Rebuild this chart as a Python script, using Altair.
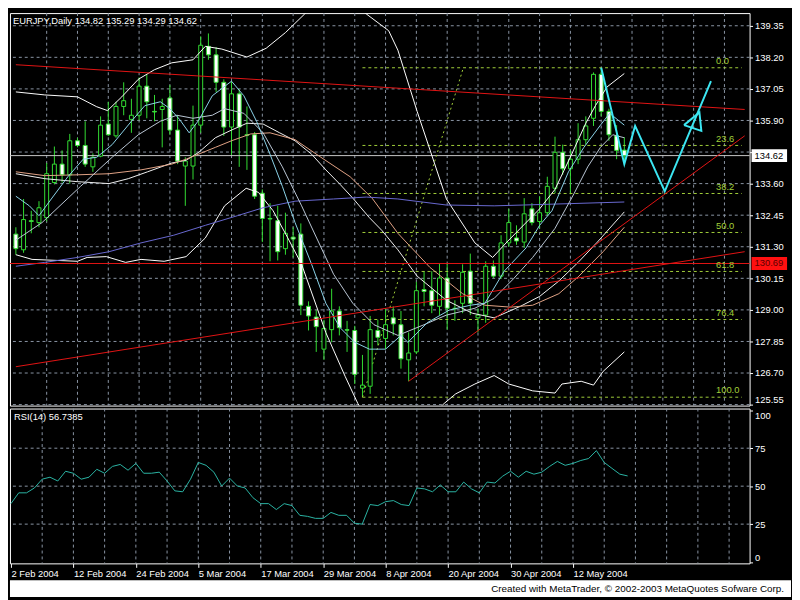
import altair as alt
import pandas as pd

FONT = "Liberation Sans"
FS = 9.5
GRID = "#8A95A5"
GREEN = "#33DD33"
RED = "#E41414"
FIB = "#A2CF3A"
CYAN = "#3CE6F2"
TEAL = "#2BB5A5"
W = 750
H_MAIN = 398
H_RSI = 157

# ---------------- data ----------------
bar_index = list(range(80))
opens = [131.76, 131.19, 132.25, 132.18, 132.36, 133.64, 134.31, 133.92, 135.16, 134.99,
         134.21, 134.60, 135.77, 135.34, 136.41, 135.94, 136.09, 137.15, 136.23, 136.30,
         136.72, 135.55, 134.24, 134.24, 135.73, 138.60, 138.29, 137.29, 135.66, 136.87,
         135.38, 135.38, 133.25, 132.33, 132.25, 131.23, 131.65, 131.76, 129.13, 128.74,
         127.57, 128.28, 128.96, 128.28, 128.25, 126.15, 126.22, 128.25, 127.96, 128.71,
         128.46, 127.18, 127.47, 129.74, 129.70, 129.13, 130.16, 129.06, 129.24, 130.41,
         128.71, 128.81, 130.59, 130.23, 131.44, 131.62, 131.47, 132.68, 132.22, 132.54,
         133.43, 134.74, 134.14, 134.49, 135.20, 135.98, 137.58, 136.23, 135.34, 134.82]
highs = [132.01, 133.04, 132.61, 132.96, 134.35, 134.95, 134.81, 135.41, 135.27, 135.87,
         134.70, 136.05, 136.58, 136.58, 137.29, 136.69, 137.47, 137.58, 136.83, 136.69,
         137.19, 136.09, 134.56, 136.44, 138.96, 139.07, 138.57, 137.40, 137.33, 137.04,
         136.41, 135.48, 133.39, 132.89, 132.79, 132.54, 132.01, 132.15, 129.31, 128.99,
         128.64, 129.77, 129.13, 128.60, 128.42, 127.36, 128.78, 128.64, 129.06, 129.13,
         128.96, 128.18, 130.02, 130.41, 130.41, 130.69, 130.69, 129.35, 130.66, 131.05,
         129.06, 130.77, 130.80, 131.72, 132.68, 132.08, 133.07, 132.89, 133.14, 133.85,
         135.31, 135.02, 134.81, 135.80, 136.05, 137.65, 137.82, 136.33, 135.73, 135.29]
lows = [131.01, 131.08, 131.79, 132.01, 132.22, 133.57, 133.64, 133.60, 134.92, 134.21,
        134.03, 134.56, 135.34, 135.27, 136.09, 135.45, 135.91, 135.98, 135.87, 134.92,
        135.38, 134.31, 132.79, 133.75, 135.45, 138.11, 136.94, 135.34, 134.63, 134.21,
        134.10, 133.04, 131.47, 130.77, 130.80, 131.01, 130.91, 128.81, 128.25, 127.47,
        127.18, 127.82, 128.07, 127.47, 126.30, 125.82, 125.94, 127.71, 127.57, 128.07,
        126.86, 126.40, 127.39, 129.13, 128.88, 128.81, 128.28, 128.60, 128.88, 128.81,
        128.18, 128.53, 130.16, 130.13, 131.30, 131.37, 131.26, 132.08, 131.97, 132.43,
        133.25, 133.92, 133.21, 134.31, 135.02, 135.70, 136.05, 135.16, 134.49, 134.29]
closes = [131.23, 132.29, 132.22, 132.72, 133.96, 134.31, 133.92, 135.16, 134.99, 134.31,
          134.56, 135.73, 135.38, 136.41, 136.62, 136.09, 137.15, 136.58, 136.21, 136.41,
          135.55, 134.42, 134.42, 135.73, 138.64, 138.29, 137.29, 135.66, 136.87, 135.66,
          135.36, 133.14, 132.33, 132.31, 131.12, 131.79, 131.58, 129.17, 128.78, 128.39,
          128.32, 128.96, 128.35, 128.26, 126.65, 126.26, 128.28, 128.00, 128.46, 128.49,
          127.22, 127.43, 129.70, 129.67, 129.17, 130.16, 129.06, 129.04, 130.37, 129.24,
          128.81, 130.59, 130.23, 131.44, 132.18, 131.51, 132.50, 132.18, 132.54, 133.50,
          134.74, 134.14, 134.49, 135.20, 135.70, 137.58, 136.23, 135.38, 134.81, 134.62]
rsi_values = [38.5, 45.6, 45.6, 48.8, 54.6, 55.9, 53.4, 59.8, 58.5, 54.6,
              55.9, 61.1, 58.5, 63.0, 64.3, 60.5, 65.0, 58.5, 58.5, 59.2,
              53.4, 46.9, 46.3, 54.6, 65.6, 63.7, 59.2, 50.1, 55.3, 50.1,
              48.8, 42.4, 38.5, 38.5, 34.6, 38.5, 37.2, 30.8, 30.1, 28.8,
              28.8, 32.7, 30.8, 30.8, 25.6, 25.0, 37.9, 37.2, 39.8, 40.5,
              37.9, 37.2, 48.8, 48.2, 46.3, 50.8, 46.3, 46.3, 52.7, 48.2,
              45.6, 52.7, 52.1, 56.6, 59.8, 55.9, 59.8, 57.9, 59.2, 63.0,
              66.3, 63.7, 65.0, 66.9, 68.2, 73.4, 65.6, 61.7, 57.9, 56.7385]

date_tick_idx = [0, 8, 16, 24, 32, 40, 48, 56, 64, 72]
date_tick_labels = ["2 Feb 2004", "12 Feb 2004", "24 Feb 2004", "5 Mar 2004", "17 Mar 2004",
                    "29 Mar 2004", "8 Apr 2004", "20 Apr 2004", "30 Apr 2004", "12 May 2004"]
price_ticks = [125.55, 126.70, 127.85, 129.00, 130.15, 131.30, 132.45, 133.60, 134.75,
               135.90, 137.05, 138.20, 139.35]
hidden_price_tick = 134.75
rsi_ticks = [0, 25, 50, 75, 100]
rsi_grid = [25, 50, 75]
grid_idx = list(range(4, 93, 4))

# indicator traces (bar index, price)
bb_upper_i = [0, 3.75, 8, 9.25, 10.5, 11.9, 13.75, 15.9, 18, 20.25, 23, 24.6, 26.75, 30, 32.5,
              35, 37.5, 39.6, 41.5, 43.4, 45.5, 48.4, 49.6, 52.1, 55.9, 59.6, 61.9, 63.75, 68,
              70, 72.1, 74, 75.25, 76.75, 79]
bb_upper_p = [136.94, 136.83, 136.76, 136.58, 136.40, 136.26, 136.76, 137.40, 137.75, 138.00,
              138.11, 138.60, 138.50, 138.21, 138.53, 139.10, 139.78, 140.31, 140.52, 140.31,
              139.78, 139.17, 138.46, 136.23, 133.04, 131.44, 130.91, 131.47, 132.68, 133.39,
              134.63, 135.80, 136.44, 137.12, 137.61]
bb_lower_i = [0, 2.1, 8, 9.25, 11.75, 14.25, 16.25, 19.25, 22.1, 24.6, 27.1, 29.9, 31.5, 33.4,
              35.25, 37.1, 40.25, 42.75, 44.4, 46.5, 49.6, 53.4, 55.6, 57.1, 59.6, 62.1, 64,
              67.1, 70, 70.9, 73.4, 75, 76.25, 79]
bb_lower_p = [131.01, 130.84, 130.77, 130.91, 130.94, 130.73, 130.84, 130.77, 130.94, 131.62,
              132.79, 133.43, 133.28, 132.61, 131.65, 130.66, 128.17, 126.58, 125.59, 124.63,
              124.27, 124.98, 125.59, 125.94, 126.30, 126.61, 126.30, 126.05, 125.97, 126.30,
              126.40, 126.26, 126.76, 127.47]
bb_mid_i = [0, 3.75, 8, 12.1, 14.6, 17.1, 20.25, 22.1, 23.75, 25.9, 28, 30, 32.1, 34.25, 36.25,
            38.4, 40.25, 42.1, 43.75, 45.9, 47.5, 49.6, 52.1, 55.9, 59.25, 62.1, 65.5, 68, 70.5,
            73, 75.5, 79]
bb_mid_p = [133.96, 133.78, 133.67, 133.60, 133.78, 134.03, 134.35, 134.45, 134.74, 135.27,
            135.55, 135.80, 135.77, 135.45, 135.16, 134.67, 134.10, 133.57, 133.07, 132.36,
            131.90, 131.19, 130.23, 129.35, 128.88, 128.71, 129.13, 129.49, 130.05, 130.73,
            131.47, 132.57]
salmon_i = [0, 3.75, 8, 12.1, 16.25, 20.25, 22.1, 25.9, 28, 30.5, 33, 36.25, 39.6, 43.4, 46.25,
            49.6, 53.75, 58, 60.9, 64.25, 67.1, 70.5, 73, 76.25, 79]
salmon_p = [134.03, 133.89, 133.92, 133.96, 134.10, 134.31, 134.49, 134.92, 135.16, 135.41,
            135.45, 135.20, 134.56, 133.85, 133.07, 131.79, 130.55, 129.59, 129.17, 129.10,
            129.17, 129.59, 130.20, 131.12, 132.01]
slow_i = [0, 3.75, 8, 12.1, 16.25, 20.5, 24.6, 28.75, 32.1, 36.25, 41.25, 45.5, 49.6, 55.9,
          62.1, 65.9, 79]
slow_p = [130.59, 130.73, 130.91, 131.12, 131.44, 131.72, 132.08, 132.43, 132.72, 132.96,
          133.04, 133.11, 133.04, 132.82, 132.79, 132.82, 132.93]
fast_i = [0, 1.75, 3, 4.6, 6.75, 8.75, 10.5, 12.5, 15, 16.75, 18.75, 20, 21.25, 22.5, 23.75,
          25.5, 28, 29.6, 31.25, 33, 34.6, 36.25, 38.4, 40.25, 42.1, 44, 45.9, 48, 50, 50.9,
          53.4, 56.25, 59, 60.9, 63.4, 66.25, 68, 69.6, 71.75, 73.75, 75.9, 77.1, 79]
fast_p = [133.14, 132.79, 132.43, 133.04, 133.85, 134.49, 134.56, 135.02, 135.87, 136.44,
          136.58, 136.33, 135.94, 135.45, 135.91, 136.80, 137.33, 136.80, 135.87, 134.67,
          133.50, 132.18, 130.66, 129.24, 128.35, 127.82, 127.57, 127.57, 128.07, 127.82,
          128.53, 128.99, 129.17, 129.24, 130.41, 131.26, 132.08, 132.61, 134.03, 134.92,
          135.73, 136.16, 135.73]
med_i = [0, 3.4, 8.4, 12.5, 15.9, 18.75, 20.9, 23, 25.5, 27.1, 29.6, 32.1, 34.6, 37.1, 41.25,
         43.75, 46.5, 49.6, 53, 55.9, 59.6, 62.1, 64.6, 67.1, 70, 72.5, 74.25, 75.9, 77.5, 79]
med_p = [131.54, 132.18, 133.50, 134.56, 135.38, 135.87, 136.09, 135.98, 136.09, 136.33,
         136.16, 135.45, 134.21, 132.79, 130.30, 129.24, 128.46, 128.07, 128.46, 128.81,
         129.06, 129.42, 130.13, 130.91, 131.97, 133.25, 134.21, 134.92, 135.38, 135.27]

# trend lines (start index, start price, end index, end price)
trend_names = ["down", "up_long", "up_short"]
trend_i0 = [0, 0, 51]
trend_p0 = [137.93, 126.93, 126.40]
trend_i1 = [94.625, 94.625, 94.625]
trend_p1 = [136.30, 131.12, 135.34]
hline_price = 130.69
last_price = 134.62

# Fibonacci retracement
fib_labels = ["0.0", "23.6", "38.2", "50.0", "61.8", "76.4", "100.0"]
fib_prices = [137.82, 134.99, 133.24, 131.82, 130.40, 128.65, 125.82]
fib_start_i = 45
fib_end_i = 94.25
fib_label_i = 90.9
fib_diag_i = [45, 58.1]
fib_diag_p = [125.82, 137.82]

# hand-drawn projection
zig_i = [76, 79, 80.4, 84.25, 90.25]
zig_p = [137.82, 134.31, 135.70, 133.32, 137.33]
tri_i = [86.75, 88.75, 89.0, 86.75]
tri_p = [135.73, 136.19, 135.52, 135.73]

# ---------------- frames ----------------
candles = pd.DataFrame({"i": bar_index, "o": opens, "h": highs, "l": lows, "c": closes})
candles["dir"] = ["bull" if c >= o else "bear" for o, c in zip(opens, closes)]

traces = [("bb_upper", bb_upper_i, bb_upper_p, "#FFFFFF"),
          ("bb_lower", bb_lower_i, bb_lower_p, "#FFFFFF"),
          ("bb_mid", bb_mid_i, bb_mid_p, "#F2F2F2"),
          ("salmon", salmon_i, salmon_p, "#E3A486"),
          ("slow", slow_i, slow_p, "#6A6AD2"),
          ("med", med_i, med_p, "#BCC8D6"),
          ("fast", fast_i, fast_p, "#8CD4EA")]
rows = []
for name, xs, ps, _ in traces:
    for k, (a, b) in enumerate(zip(xs, ps)):
        rows.append({"name": name, "i": a, "p": b, "seq": k})
ind_df = pd.DataFrame(rows)
ind_names = [t[0] for t in traces]
ind_colors = [t[3] for t in traces]

trows = []
for n, a0, b0, a1, b1 in zip(trend_names, trend_i0, trend_p0, trend_i1, trend_p1):
    trows.append({"name": n, "i": a0, "p": b0, "seq": 0})
    trows.append({"name": n, "i": a1, "p": b1, "seq": 1})
trend_df = pd.DataFrame(trows)

fib_df = pd.DataFrame({"lab": fib_labels, "p": fib_prices,
                       "x0": [fib_start_i] * len(fib_prices),
                       "x1": [fib_end_i] * len(fib_prices),
                       "xl": [fib_label_i] * len(fib_prices)})
fib_diag_df = pd.DataFrame({"i": fib_diag_i, "p": fib_diag_p, "seq": [0, 1]})

zrows = [{"name": "zig", "i": a, "p": b, "seq": k} for k, (a, b) in enumerate(zip(zig_i, zig_p))]
zrows += [{"name": "tri", "i": a, "p": b, "seq": k} for k, (a, b) in enumerate(zip(tri_i, tri_p))]
zig_df = pd.DataFrame(zrows)

rsi_df = pd.DataFrame({"i": bar_index, "r": rsi_values})

# ---------------- scales & axes ----------------
X_SCALE = alt.Scale(domain=[-0.125, 94.625], nice=False, zero=False)
Y_MAIN = alt.Scale(domain=[125.514, 139.811], nice=False, zero=False)
Y_RSI = alt.Scale(domain=[-0.84, 101.1], nice=False, zero=False)

x_main_axis = alt.Axis(values=grid_idx, grid=False, labels=False, ticks=False, domain=False, title=None)
y_main_axis = alt.Axis(orient="right", values=price_ticks, grid=False, domain=False,
                       tickColor="white", tickSize=3, labelPadding=2, labelOverlap=False, title=None,
                       labelFlush=5,
                       labelExpr=f"datum.value == {hidden_price_tick} ? '' : format(datum.value, '.2f')")

date_expr = " : ".join(f"datum.value == {k} ? '{lab}'" for k, lab in zip(date_tick_idx, date_tick_labels)) + " : ''"
x_rsi_axis = alt.Axis(values=date_tick_idx, grid=False, domain=False, tickSize=4, tickColor="white",
                      labelExpr=date_expr, labelAlign="left", labelFlush=False, labelOverlap=False,
                      labelPadding=1, title=None)
y_rsi_axis = alt.Axis(orient="right", values=rsi_ticks, grid=False, domain=False, tickColor="white",
                      tickSize=3, labelPadding=2, labelOverlap=False, labelFlush=5, title=None)


def X(field="i"):
    return alt.X(f"{field}:Q", scale=X_SCALE, axis=x_main_axis)


def YM(field="p"):
    return alt.Y(f"{field}:Q", scale=Y_MAIN, axis=y_main_axis)


def XR(field="i"):
    return alt.X(f"{field}:Q", scale=X_SCALE, axis=x_rsi_axis)


def YR(field="r"):
    return alt.Y(f"{field}:Q", scale=Y_RSI, axis=y_rsi_axis)


# ---------------- main panel ----------------
hgrid = alt.Chart(pd.DataFrame({"p": price_ticks})).mark_rule(
    color=GRID, strokeDash=[3, 3], strokeWidth=1).encode(y=YM())
vgrid = alt.Chart(pd.DataFrame({"i": grid_idx})).mark_rule(
    color=GRID, strokeDash=[3, 3], strokeWidth=1).encode(x=X())
wicks = alt.Chart(candles).mark_rule(color=GREEN, strokeWidth=1).encode(
    x=X("i"), y=YM("l"), y2="h:Q")
bodies = alt.Chart(candles).mark_bar(size=4, stroke=GREEN, strokeWidth=1).encode(
    x=X(), y=YM("o"), y2="c:Q",
    fill=alt.Fill("dir:N", scale=alt.Scale(domain=["bull", "bear"], range=["#000000", "#FFFFFF"]), legend=None))
price_line = alt.Chart(pd.DataFrame({"p": [last_price]})).mark_rule(color="#C8C8C8", strokeWidth=1).encode(y=YM())
fib_rules = alt.Chart(fib_df).mark_rule(color=FIB, strokeDash=[3, 3], strokeWidth=1).encode(
    x=X("x0"), x2="x1:Q", y=YM())
fib_text = alt.Chart(fib_df).mark_text(color=FIB, align="left", baseline="bottom", dy=-2,
                                       font=FONT, fontSize=FS).encode(x=X("xl"), y=YM(), text="lab:N")
fib_diag = alt.Chart(fib_diag_df).mark_line(color=FIB, strokeDash=[2, 3], strokeWidth=1).encode(
    x=X(), y=YM(), order="seq:Q")
indicators = alt.Chart(ind_df).mark_line(strokeWidth=1, clip=True).encode(
    x=X(), y=YM(),
    color=alt.Color("name:N", scale=alt.Scale(domain=ind_names, range=ind_colors), legend=None),
    order="seq:Q")
trends = alt.Chart(trend_df).mark_line(color=RED, strokeWidth=1, clip=True).encode(
    x=X(), y=YM(), detail="name:N", order="seq:Q")
hline = alt.Chart(pd.DataFrame({"p": [hline_price]})).mark_rule(color=RED, strokeWidth=1).encode(y=YM())
zig = alt.Chart(zig_df).mark_line(color=CYAN, strokeWidth=2).encode(
    x=X(), y=YM(), detail="name:N", order="seq:Q")

title_text = f"EURJPY,Daily  {opens[-1]:.2f} {highs[-1]:.2f} {lows[-1]:.2f} {closes[-1]:.2f}"
title = alt.Chart(pd.DataFrame({"t": [title_text]})).mark_text(
    color="white", align="left", baseline="middle", font=FONT, fontSize=FS).encode(
    x=alt.value(3), y=alt.value(8), text="t:N")

BOX = "M-1,-0.36L1,-0.36L1,0.36L-1,0.36Z"
tag_last_box = alt.Chart(pd.DataFrame({"p": [last_price]})).mark_point(
    shape=BOX, filled=True, size=1296, color="#FFFFFF", opacity=1).encode(x=alt.value(W + 20), y=YM())
tag_last_txt = alt.Chart(pd.DataFrame({"p": [last_price], "t": [f"{last_price:.2f}"]})).mark_text(
    color="#000000", align="left", baseline="middle", font=FONT, fontSize=FS).encode(
    x=alt.value(W + 5), y=YM(), text="t:N")
tag_h_box = alt.Chart(pd.DataFrame({"p": [hline_price]})).mark_point(
    shape=BOX, filled=True, size=1296, color="#FF1010", opacity=1).encode(x=alt.value(W + 20), y=YM())
tag_h_txt = alt.Chart(pd.DataFrame({"p": [hline_price], "t": [f"{hline_price:.2f}"]})).mark_text(
    color="#5A0000", align="left", baseline="middle", font=FONT, fontSize=FS).encode(
    x=alt.value(W + 5), y=YM(), text="t:N")

main = alt.layer(hgrid, vgrid, wicks, price_line, fib_rules, fib_diag, bodies, indicators, trends,
                 hline, fib_text, zig, title, tag_last_box, tag_last_txt, tag_h_box, tag_h_txt
                 ).properties(width=W, height=H_MAIN)

# ---------------- RSI panel ----------------
rsi_hgrid = alt.Chart(pd.DataFrame({"r": rsi_grid})).mark_rule(
    color=GRID, strokeDash=[3, 3], strokeWidth=1).encode(y=YR())
rsi_vgrid = alt.Chart(pd.DataFrame({"i": grid_idx})).mark_rule(
    color=GRID, strokeDash=[3, 3], strokeWidth=1).encode(x=XR())
rsi_line = alt.Chart(rsi_df).mark_line(color=TEAL, strokeWidth=1).encode(x=XR(), y=YR())
rsi_title = alt.Chart(pd.DataFrame({"t": [f"RSI(14)  {rsi_values[-1]:.4f}"]})).mark_text(
    color="white", align="left", baseline="middle", font=FONT, fontSize=FS).encode(
    x=alt.value(4), y=alt.value(9), text="t:N")
footer_bg = alt.Chart(pd.DataFrame({"a": [0]})).mark_rect(color="#FFFFFF").encode(
    x=alt.value(0), x2=alt.value(W + 42), y=alt.value(H_RSI + 17), y2=alt.value(H_RSI + 34))
footer_txt = alt.Chart(pd.DataFrame({"t": ["Created with MetaTrader, \u00a9 2002-2003 MetaQuotes Sofware Corp."]})).mark_text(
    color="#000000", align="right", baseline="middle", font=FONT, fontSize=FS + 0.5).encode(
    x=alt.value(W + 35), y=alt.value(H_RSI + 26), text="t:N")

rsi = alt.layer(rsi_hgrid, rsi_vgrid, rsi_line, rsi_title, footer_bg, footer_txt).properties(
    width=W, height=H_RSI)

chart = alt.vconcat(main, rsi, spacing=3, bounds="flush").properties(
    background="#000000", padding=0
).configure_view(stroke="#FFFFFF", strokeWidth=1).configure_axis(
    labelFont=FONT, labelFontSize=FS, labelColor="#FFFFFF")

chart.save("out.html", embed_options={"renderer": "svg", "actions": False})
